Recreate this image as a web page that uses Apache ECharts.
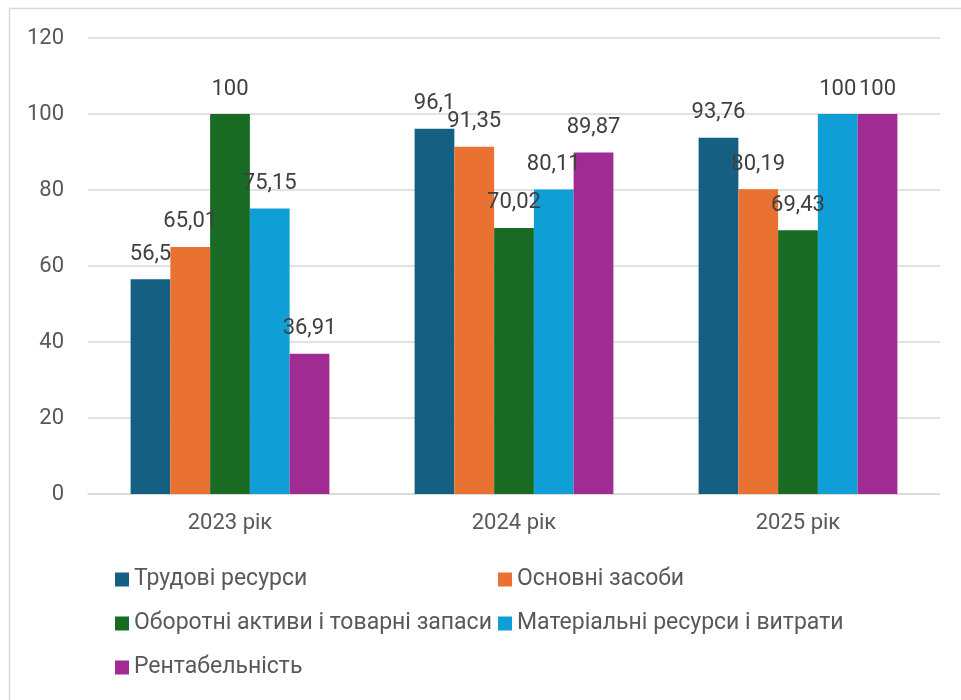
<!DOCTYPE html>
<html><head><meta charset="utf-8">
<script src="https://cdn.jsdelivr.net/npm/echarts@6/dist/echarts.min.js"></script>
<style>html,body{margin:0;padding:0;background:#fff}#c{width:961px;height:700px}</style>
</head><body><div id="c"></div>
<script>
const categories = ['2023 рік', '2024 рік', '2025 рік'];
const seriesNames = ['Трудові ресурси', 'Основні засоби', 'Оборотні активи і товарні запаси', 'Матеріальні ресурси і витрати', 'Рентабельність'];
const trudovi = [56.5, 96.1, 93.76];
const osnovni = [65.01, 91.35, 80.19];
const oborotni = [100, 70.02, 69.43];
const materialni = [75.15, 80.11, 100];
const rentabelnist = [36.91, 89.87, 100];
const colors = ['#156082', '#E97132', '#196B24', '#0F9ED5', '#A02B93'];
const yTicks = [0, 20, 40, 60, 80, 100, 120];

const values = [trudovi, osnovni, oborotni, materialni, rentabelnist];
const font = 'Roboto';
const chart = echarts.init(document.getElementById('c'), null, {renderer: 'canvas'});
const legendPos = [[115, 568], [498, 568], [115, 612], [498, 612], [115, 656]];
chart.setOption({
  animation: false,
  color: colors,
  graphic: [{type: 'rect', shape: {x: 9.5, y: 8.5, width: 1000, height: 800}, style: {fill: 'none', stroke: '#d9d9d9', lineWidth: 1.5}}],
  grid: {left: 88, right: 21, top: 38, bottom: 206, containLabel: false},
  xAxis: {
    type: 'category', data: categories,
    axisLine: {show: true, lineStyle: {color: '#d9d9d9', width: 1.5}},
    axisTick: {show: false},
    axisLabel: {color: '#595959', fontSize: 22, fontFamily: font, margin: 18}
  },
  yAxis: {
    type: 'value', min: yTicks[0], max: yTicks[yTicks.length - 1], interval: 20,
    axisLine: {show: false}, axisTick: {show: false},
    splitLine: {lineStyle: {color: '#d9d9d9', width: 1.5}},
    axisLabel: {color: '#595959', fontSize: 22, fontFamily: font, margin: 24}
  },
  legend: legendPos.map((p, i) => ({
    data: [seriesNames[i]], left: p[0], top: p[1], padding: 0, itemWidth: 14, itemHeight: 14, itemGap: 0,
    icon: 'rect', textStyle: {color: '#595959', fontSize: 23, fontFamily: font},
    selectedMode: false
  })),
  series: values.map((v, i) => ({
    name: seriesNames[i], type: 'bar', data: v,
    barGap: '0%', barCategoryGap: '30%',
    itemStyle: {color: colors[i]},
    label: {show: true, position: 'top', distance: 14, color: '#404040', fontSize: 22, fontFamily: font,
      formatter: p => String(p.value).replace('.', ',')}
  }))
});
</script></body></html>
